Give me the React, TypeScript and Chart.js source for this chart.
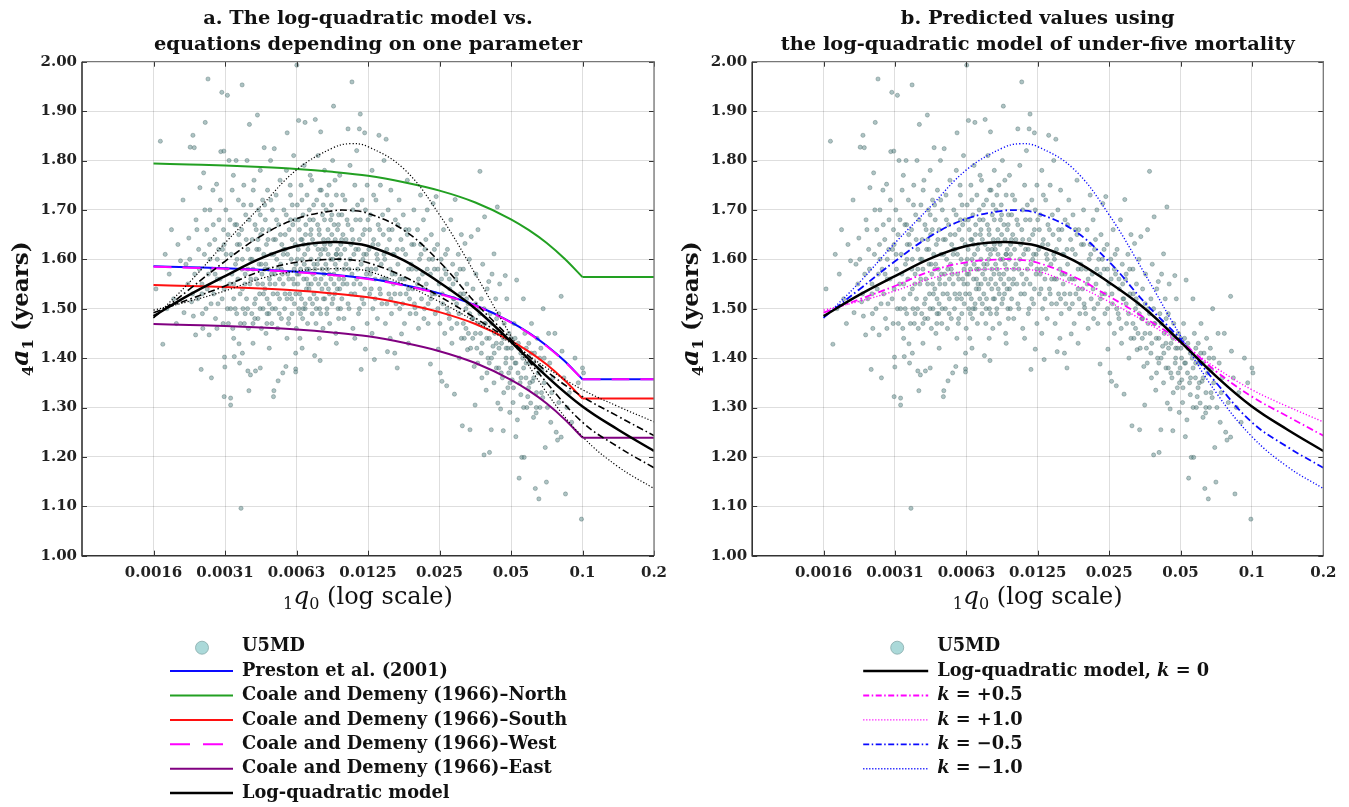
import React, { useEffect, useRef } from "react";
import { Chart, registerables } from "chart.js";

Chart.register(...registerables);

const SERIF = '"DejaVu Serif", "Liberation Serif", serif';

// ---------- axes ----------
const xTickValues = [0.0015625, 0.003125, 0.00625, 0.0125, 0.025, 0.05, 0.1, 0.2];
const xTickLabels = ["0.0016", "0.0031", "0.0063", "0.0125", "0.025", "0.05", "0.1", "0.2"];
const X_MIN = 0.00078125;
const X_MAX = 0.2;
const Y_MIN = 1.0;
const Y_MAX = 2.0;
const Y_STEP = 0.1;

// ---------- titles / legend labels ----------
const titleA = ["a. The log-quadratic model vs.", "equations depending on one parameter"];
const titleB = ["b. Predicted values using", "the log-quadratic model of under-five mortality"];
const legendA = [
  "U5MD",
  "Preston et al. (2001)",
  "Coale and Demeny (1966)\u2013North",
  "Coale and Demeny (1966)\u2013South",
  "Coale and Demeny (1966)\u2013West",
  "Coale and Demeny (1966)\u2013East",
  "Log-quadratic model",
];
const legendBValues = ["0", "+0.5", "+1.0", "\u22120.5", "\u22121.0"];

// ---------- log-quadratic model curves ----------
const curveQ = [0.0015625, 0.00221, 0.003125, 0.00442, 0.00625, 0.00884, 0.0105, 0.0125, 0.0177, 0.025, 0.0354, 0.05, 0.0707, 0.1, 0.1414, 0.2];
const logQuadK0 = [1.485, 1.528, 1.566, 1.602, 1.627, 1.635, 1.633, 1.627, 1.598, 1.553, 1.5, 1.433, 1.363, 1.302, 1.255, 1.212];
const kPlus05 = [1.492, 1.519, 1.546, 1.576, 1.594, 1.6, 1.599, 1.593, 1.565, 1.525, 1.481, 1.434, 1.373, 1.322, 1.282, 1.243];
const kPlus10 = [1.497, 1.515, 1.536, 1.561, 1.576, 1.581, 1.58, 1.576, 1.549, 1.514, 1.474, 1.43, 1.38, 1.336, 1.302, 1.271];
const kMinus05 = [1.482, 1.539, 1.596, 1.647, 1.682, 1.698, 1.699, 1.693, 1.659, 1.595, 1.512, 1.438, 1.35, 1.27, 1.22, 1.178];
const kMinus10 = [1.481, 1.553, 1.633, 1.707, 1.781, 1.825, 1.834, 1.828, 1.783, 1.69, 1.57, 1.445, 1.33, 1.241, 1.18, 1.136];

// ---------- one-parameter equations ----------
const cdQ = [0.0015625, 0.00221, 0.003125, 0.00442, 0.00625, 0.00884, 0.0125, 0.0177, 0.025, 0.0354, 0.05, 0.0595, 0.0707, 0.0841, 0.1];
const prestonA = [1.586, 1.584, 1.582, 1.579, 1.575, 1.569, 1.561, 1.548, 1.531, 1.507, 1.473, 1.451, 1.425, 1.394, 1.357];
const northA = [1.794, 1.792, 1.79, 1.787, 1.783, 1.777, 1.769, 1.756, 1.739, 1.715, 1.681, 1.659, 1.633, 1.601, 1.564];
const southA = [1.548, 1.546, 1.544, 1.541, 1.537, 1.531, 1.523, 1.51, 1.493, 1.469, 1.435, 1.413, 1.387, 1.355, 1.318];
const westA = [1.585, 1.583, 1.581, 1.578, 1.574, 1.568, 1.56, 1.547, 1.53, 1.506, 1.472, 1.45, 1.424, 1.393, 1.357];
const eastA = [1.469, 1.467, 1.465, 1.462, 1.458, 1.452, 1.444, 1.431, 1.414, 1.39, 1.356, 1.334, 1.308, 1.276, 1.239];
const plateauQ = [0.1, 0.2];
const prestonPlateau = 1.357;
const northPlateau = 1.564;
const southPlateau = 1.318;
const westPlateau = 1.357;
const eastPlateau = 1.239;

const u5mdPoints = [
  [0.0016, 1.54], [0.00167, 1.839], [0.00171, 1.428], [0.00175, 1.61], [0.00178, 1.5],
  [0.00182, 1.57], [0.00186, 1.66], [0.0019, 1.52], [0.00195, 1.47], [0.00198, 1.63], [0.00203, 1.597],
  [0.00208, 1.72], [0.0021, 1.492], [0.00214, 1.59], [0.00218, 1.55], [0.0022, 1.643], [0.00223, 1.827], [0.00226, 1.514], [0.00229, 1.851], [0.0023, 1.485], [0.00232, 1.826], [0.00233, 1.57], [0.00235, 1.447], [0.00236, 1.68],
  [0.0024, 1.52], [0.00242, 1.62], [0.00245, 1.745], [0.00248, 1.377], [0.0025, 1.55], [0.00252, 1.46], [0.00254, 1.775], [0.00256, 1.61], [0.00258, 1.877], [0.0026, 1.5], [0.00262, 1.66], [0.00265, 1.965], [0.00266, 1.57], [0.00268, 1.447], [0.0027, 1.7],
  [0.00274, 1.36], [0.00276, 1.58], [0.00278, 1.74], [0.0028, 1.53], [0.00283, 1.64], [0.00285, 1.48], [0.00288, 1.752], [0.0029, 1.6], [0.00292, 1.51], [0.00295, 1.68], [0.00298, 1.56], [0.003, 1.818], [0.00303, 1.938], [0.00305, 1.62], [0.00307, 1.47], [0.00309, 1.819], [0.0031, 1.322], [0.0031, 1.54], [0.00311, 1.402], [0.00312, 1.382],
  [0.00315, 1.7], [0.00317, 1.58], [0.0032, 1.932], [0.0032, 1.5], [0.00322, 1.65], [0.00325, 1.8], [0.00327, 1.55], [0.0033, 1.319], [0.0033, 1.305], [0.00332, 1.61], [0.00335, 1.74], [0.00337, 1.46], [0.0034, 1.52], [0.00342, 1.403], [0.00344, 1.67], [0.00346, 1.59], [0.00348, 1.8], [0.0035, 1.49], [0.00352, 1.63], [0.00354, 1.56], [0.00356, 1.72], [0.00358, 1.429],
  [0.0036, 1.39], [0.00362, 1.53], [0.00365, 1.096], [0.00367, 1.66], [0.00369, 1.953], [0.0037, 1.6], [0.00372, 1.5], [0.00375, 1.75], [0.00377, 1.47], [0.0038, 1.57], [0.00382, 1.69], [0.00385, 1.52], [0.00387, 1.8], [0.0039, 1.62], [0.0039, 1.374], [0.00392, 1.46], [0.00394, 1.334], [0.00396, 1.873], [0.00398, 1.55], [0.004, 1.366], [0.00402, 1.71], [0.00405, 1.49], [0.00407, 1.64], [0.0041, 1.58],
  [0.00414, 1.76], [0.00416, 1.51], [0.00418, 1.67], [0.0042, 1.374], [0.00422, 1.56], [0.00425, 1.62], [0.00428, 1.892], [0.0043, 1.48], [0.00432, 1.7], [0.00435, 1.59], [0.00437, 1.53], [0.0044, 1.78], [0.00442, 1.65], [0.00445, 1.46], [0.00447, 1.57], [0.0045, 1.72], [0.00452, 1.5], [0.00455, 1.61], [0.00457, 1.826], [0.0046, 1.54], [0.00462, 1.68], [0.00465, 1.45], [0.00467, 1.63], [0.0047, 1.52], [0.00472, 1.74],
  [0.00476, 1.58], [0.00478, 1.49], [0.0048, 1.66], [0.00483, 1.55], [0.00486, 1.8], [0.00489, 1.61], [0.00492, 1.47], [0.00495, 1.7], [0.00498, 1.53], [0.005, 1.322], [0.005, 1.64], [0.00502, 1.334], [0.00504, 1.824], [0.00506, 1.57], [0.0051, 1.5], [0.00513, 1.73], [0.00516, 1.6], [0.0052, 1.46], [0.00523, 1.354], [0.00526, 1.67], [0.0053, 1.52], [0.00533, 1.76], [0.00536, 1.59], [0.0054, 1.48], [0.00542, 1.63],
  [0.00547, 1.37], [0.0055, 1.55], [0.00553, 1.7], [0.00557, 1.5], [0.0056, 1.62], [0.00564, 1.383], [0.00567, 1.78], [0.00571, 1.856], [0.00574, 1.57], [0.00578, 1.47], [0.00582, 1.66], [0.00585, 1.53], [0.0059, 1.73], [0.00594, 1.6], [0.00598, 1.49], [0.006, 1.64], [0.00604, 1.56], [0.00608, 1.81], [0.00612, 1.51], [0.00616, 1.68], [0.0062, 1.378], [0.0062, 1.372], [0.00622, 1.59], [0.00624, 1.46],
  [0.00627, 1.993], [0.0063, 1.71], [0.00633, 1.55], [0.00636, 1.62], [0.00638, 1.881], [0.0064, 1.5], [0.00643, 1.66], [0.00646, 1.44], [0.0065, 1.58], [0.00653, 1.75], [0.00656, 1.52], [0.0066, 1.64], [0.00663, 1.48], [0.00666, 1.69], [0.0067, 1.56], [0.00673, 1.79], [0.00676, 1.61], [0.00679, 1.877], [0.0068, 1.51], [0.00684, 1.67], [0.00688, 1.54], [0.00692, 1.73], [0.00696, 1.47], [0.007, 1.63], [0.00704, 1.58], [0.00708, 1.7], [0.00712, 1.52], [0.00716, 1.65],
  [0.0072, 1.6], [0.00724, 1.76], [0.00728, 1.49], [0.00732, 1.57], [0.00736, 1.68], [0.0074, 1.53], [0.00745, 1.405], [0.0075, 1.883], [0.0075, 1.63], [0.00755, 1.47], [0.0076, 1.72], [0.00765, 1.59], [0.0077, 1.81], [0.00774, 1.55], [0.00778, 1.66], [0.00782, 1.5], [0.00786, 1.395], [0.0079, 1.858], [0.0079, 1.61], [0.00795, 1.74], [0.008, 1.54], [0.00804, 1.69], [0.00808, 1.46], [0.00812, 1.64], [0.00816, 1.57], [0.0082, 1.78], [0.00822, 1.52],
  [0.00828, 1.62], [0.00833, 1.7], [0.00838, 1.49], [0.00843, 1.58], [0.00848, 1.66], [0.00852, 1.54], [0.00857, 1.75], [0.00862, 1.47], [0.00867, 1.63], [0.00872, 1.56], [0.00877, 1.71], [0.00882, 1.51], [0.00887, 1.8], [0.0089, 1.6], [0.00895, 1.91], [0.009, 1.67], [0.00905, 1.53], [0.0091, 1.64], [0.00915, 1.45], [0.0092, 1.73], [0.00925, 1.58], [0.0093, 1.62], [0.00935, 1.5], [0.0094, 1.69], [0.00944, 1.56],
  [0.0095, 1.77], [0.0096, 1.61], [0.0097, 1.52], [0.0098, 1.65], [0.0099, 1.48], [0.01, 1.72], [0.0101, 1.59], [0.0102, 1.55], [0.0103, 1.864], [0.0103, 1.67], [0.0104, 1.5], [0.0105, 1.79], [0.0106, 1.63], [0.0107, 1.959], [0.0107, 1.57], [0.0108, 1.7], [0.0108, 1.46], [0.0109, 1.61],
  [0.011, 1.53], [0.0111, 1.68], [0.0112, 1.82], [0.0113, 1.58], [0.0114, 1.49], [0.0115, 1.864], [0.0115, 1.64], [0.0116, 1.894], [0.0116, 1.55], [0.0117, 1.377], [0.0118, 1.72], [0.0119, 1.6], [0.012, 1.51], [0.0121, 1.856], [0.0121, 1.66], [0.0122, 1.418], [0.0123, 1.57], [0.0124, 1.75], [0.0124, 1.47],
  [0.0126, 1.62], [0.0127, 1.53], [0.0128, 1.69], [0.0129, 1.58], [0.013, 1.78], [0.0131, 1.5], [0.0132, 1.64], [0.0133, 1.397], [0.0134, 1.56], [0.0135, 1.72], [0.0136, 1.61], [0.0137, 1.48], [0.0138, 1.67], [0.0139, 1.851], [0.014, 1.54], [0.0141, 1.75], [0.0142, 1.59], [0.0143, 1.51],
  [0.0145, 1.65], [0.0146, 1.8], [0.0147, 1.56], [0.0148, 1.47], [0.0149, 1.843], [0.015, 1.62], [0.0151, 1.413], [0.0152, 1.7], [0.0153, 1.53], [0.0155, 1.58], [0.0156, 1.74], [0.0157, 1.49], [0.0158, 1.66], [0.016, 1.55], [0.0161, 1.61], [0.0162, 1.41], [0.0163, 1.68], [0.0164, 1.51],
  [0.0166, 1.38], [0.0167, 1.59], [0.0169, 1.72], [0.017, 1.5], [0.0172, 1.64], [0.0173, 1.449], [0.0175, 1.56], [0.0176, 1.69], [0.0178, 1.47], [0.018, 1.61], [0.0181, 1.53], [0.0183, 1.76], [0.0185, 1.58], [0.0186, 1.66], [0.0188, 1.49],
  [0.0191, 1.63], [0.0193, 1.54], [0.0195, 1.7], [0.0197, 1.502], [0.02, 1.58], [0.0202, 1.66], [0.0204, 1.46], [0.0206, 1.6], [0.0208, 1.73], [0.021, 1.52], [0.0212, 1.57], [0.0214, 1.68], [0.0216, 1.5], [0.0217, 1.62],
  [0.022, 1.55], [0.0222, 1.7], [0.0224, 1.47], [0.0226, 1.6], [0.0229, 1.388], [0.0231, 1.65], [0.0233, 1.53], [0.0235, 1.713], [0.0238, 1.58], [0.024, 1.49], [0.0242, 1.727], [0.0245, 1.63], [0.0247, 1.418], [0.0249, 1.55],
  [0.0252, 1.37], [0.0254, 1.6], [0.0256, 1.353], [0.0258, 1.51], [0.026, 1.66], [0.0263, 1.45], [0.0266, 1.57], [0.0268, 1.344], [0.027, 1.62], [0.0273, 1.49], [0.0276, 1.54], [0.0279, 1.68], [0.0282, 1.43], [0.0284, 1.59], [0.0286, 1.52],
  [0.0289, 1.327], [0.0291, 1.721], [0.0293, 1.56], [0.0296, 1.47], [0.03, 1.61], [0.0303, 1.4], [0.0306, 1.53], [0.0309, 1.65], [0.0312, 1.263], [0.0315, 1.58], [0.0318, 1.44], [0.032, 1.632], [0.0323, 1.5], [0.0326, 1.55], [0.0328, 1.417],
  [0.0331, 1.45], [0.0334, 1.6], [0.0336, 1.255], [0.034, 1.646], [0.0343, 1.48], [0.0346, 1.54], [0.035, 1.383], [0.0353, 1.305], [0.0356, 1.57], [0.0359, 1.42], [0.0363, 1.66], [0.0366, 1.5], [0.037, 1.778], [0.0372, 1.45], [0.0375, 1.52], [0.0377, 1.36],
  [0.038, 1.59], [0.0385, 1.204], [0.0387, 1.686], [0.039, 1.47], [0.0393, 1.335], [0.0397, 1.54], [0.04, 1.4], [0.0403, 1.555], [0.0406, 1.209], [0.0409, 1.49], [0.0413, 1.255], [0.0416, 1.57], [0.042, 1.424], [0.0424, 1.611], [0.0427, 1.45], [0.0431, 1.52], [0.0434, 1.38],
  [0.0438, 1.706], [0.044, 1.309], [0.0444, 1.49], [0.0448, 1.55], [0.0452, 1.297], [0.0456, 1.43], [0.046, 1.36], [0.0464, 1.253], [0.0468, 1.47], [0.0473, 1.567], [0.0477, 1.4], [0.048, 1.52], [0.0485, 1.34], [0.049, 1.45], [0.0494, 1.29], [0.0498, 1.38],
  [0.0502, 1.42], [0.0506, 1.356], [0.051, 1.31], [0.0515, 1.47], [0.052, 1.39], [0.0524, 1.241], [0.0528, 1.558], [0.0532, 1.275], [0.0537, 1.43], [0.0541, 1.157], [0.0546, 1.35], [0.055, 1.326], [0.0555, 1.199], [0.056, 1.4], [0.0564, 1.52], [0.0568, 1.199], [0.0572, 1.45],
  [0.0578, 1.36], [0.0583, 1.3], [0.0588, 1.322], [0.0594, 1.43], [0.06, 1.39], [0.0605, 1.309], [0.061, 1.47], [0.0616, 1.353], [0.0622, 1.28], [0.0628, 1.41], [0.0633, 1.136], [0.0638, 1.289], [0.0644, 1.44], [0.065, 1.37], [0.0655, 1.115],
  [0.0662, 1.3], [0.0668, 1.42], [0.0675, 1.376], [0.0683, 1.5], [0.069, 1.35], [0.0697, 1.219], [0.0705, 1.149], [0.0712, 1.3], [0.072, 1.45], [0.0728, 1.39], [0.0735, 1.27], [0.0742, 1.33], [0.075, 1.36],
  [0.0765, 1.45], [0.0775, 1.25], [0.0785, 1.234], [0.0795, 1.31], [0.0813, 1.525], [0.0813, 1.24], [0.082, 1.414], [0.0835, 1.36], [0.0848, 1.125], [0.086, 1.3],
  [0.088, 1.33], [0.09, 1.27], [0.093, 1.4], [0.096, 1.35], [0.099, 1.074], [0.1, 1.38], [0.101, 1.37],
  [0.0034, 1.55], [0.0036, 1.63], [0.0038, 1.49], [0.004, 1.6], [0.0042, 1.52], [0.0044, 1.69], [0.0046, 1.58], [0.0048, 1.51], [0.0049, 1.57], [0.0051, 1.64], [0.0053, 1.56], [0.0055, 1.61], [0.0057, 1.52], [0.0059, 1.68], [0.0061, 1.55], [0.0063, 1.6], [0.0065, 1.49], [0.0067, 1.63], [0.0069, 1.58], [0.0071, 1.68], [0.0073, 1.51], [0.0075, 1.56], [0.0077, 1.62], [0.0079, 1.49], [0.0081, 1.71], [0.0083, 1.55], [0.0085, 1.61], [0.0087, 1.68], [0.0089, 1.52], [0.0091, 1.59], [0.0093, 1.66], [0.0095, 1.54], [0.0097, 1.69], [0.0099, 1.58],
  [0.0101, 1.64], [0.0103, 1.51], [0.0105, 1.6], [0.0107, 1.66], [0.0109, 1.55], [0.0111, 1.62], [0.0113, 1.71], [0.0115, 1.5], [0.0117, 1.59], [0.0119, 1.65], [0.0121, 1.54], [0.0123, 1.61], [0.0125, 1.68], [0.0128, 1.57], [0.0131, 1.63], [0.0134, 1.52], [0.0137, 1.6], [0.014, 1.66], [0.0143, 1.56], [0.0146, 1.61], [0.015, 1.51], [0.0154, 1.64], [0.0158, 1.57], [0.0162, 1.53], [0.0166, 1.62], [0.017, 1.56], [0.0175, 1.51], [0.018, 1.66], [0.0185, 1.54], [0.019, 1.59], [0.0196, 1.51], [0.0202, 1.55], [0.0208, 1.63], [0.0215, 1.48], [0.0222, 1.58], [0.023, 1.52], [0.0238, 1.62], [0.0246, 1.5],
  [0.0255, 1.56], [0.0265, 1.61], [0.0275, 1.48], [0.0285, 1.55], [0.0295, 1.51], [0.0305, 1.58], [0.0315, 1.47], [0.0325, 1.52], [0.0335, 1.49], [0.0345, 1.44], [0.0355, 1.51], [0.0365, 1.47], [0.0375, 1.41], [0.0385, 1.5], [0.0395, 1.44], [0.0405, 1.39], [0.0415, 1.47], [0.0425, 1.41], [0.0435, 1.48], [0.0445, 1.42], [0.0455, 1.37], [0.0465, 1.44], [0.0475, 1.39], [0.0485, 1.42], [0.0495, 1.35], [0.0505, 1.4], [0.052, 1.44], [0.0535, 1.37], [0.055, 1.41], [0.0565, 1.38], [0.058, 1.42], [0.06, 1.35], [0.062, 1.39], [0.064, 1.33], [0.066, 1.4], [0.068, 1.32],
  [0.0025, 1.53], [0.0027, 1.6], [0.0029, 1.56], [0.0031, 1.63], [0.0033, 1.5], [0.0035, 1.67], [0.0037, 1.54], [0.0039, 1.58], [0.0041, 1.47], [0.0043, 1.64], [0.0045, 1.55], [0.0047, 1.49], [0.0052, 1.53], [0.0054, 1.58], [0.0056, 1.65], [0.0058, 1.48], [0.006, 1.71], [0.0062, 1.53], [0.0064, 1.57], [0.0066, 1.6], [0.0068, 1.5], [0.007, 1.55], [0.0072, 1.66], [0.0074, 1.59], [0.0076, 1.52], [0.0078, 1.65], [0.008, 1.58], [0.0082, 1.63], [0.0084, 1.5], [0.0086, 1.57], [0.0088, 1.65], [0.009, 1.55], [0.0092, 1.61], [0.0094, 1.48], [0.0096, 1.63], [0.0098, 1.55],
  [0.00222, 1.6], [0.00228, 1.53], [0.00238, 1.66], [0.00244, 1.58], [0.00251, 1.49], [0.00257, 1.7], [0.00263, 1.54], [0.00269, 1.63], [0.00273, 1.51], [0.00279, 1.67], [0.00284, 1.57], [0.00289, 1.46], [0.00294, 1.62], [0.00299, 1.72], [0.00304, 1.52], [0.00308, 1.66],
  [0.00316, 1.61], [0.00323, 1.47], [0.00328, 1.68], [0.00334, 1.57], [0.00339, 1.77], [0.00345, 1.5], [0.00351, 1.6], [0.00357, 1.65], [0.00363, 1.47], [0.00368, 1.58], [0.00374, 1.71], [0.00379, 1.55], [0.00384, 1.64], [0.00389, 1.5], [0.00395, 1.68], [0.00401, 1.56], [0.00406, 1.6], [0.00411, 1.74], [0.00417, 1.48], [0.00423, 1.66], [0.00429, 1.55], [0.00434, 1.62], [0.00439, 1.5], [0.00444, 1.59],
  [0.00449, 1.66], [0.00454, 1.53], [0.00459, 1.71], [0.00464, 1.59], [0.00469, 1.47], [0.00474, 1.64], [0.00481, 1.56], [0.00487, 1.72], [0.00494, 1.5], [0.00501, 1.61], [0.00508, 1.55], [0.00515, 1.68], [0.00522, 1.58], [0.00529, 1.49], [0.00535, 1.65], [0.00545, 1.57], [0.00552, 1.62], [0.00559, 1.53], [0.00566, 1.69], [0.00573, 1.61], [0.0058, 1.56], [0.00588, 1.75], [0.00596, 1.52], [0.00603, 1.67], [0.00611, 1.58], [0.00618, 1.63],
  [0.00629, 1.57], [0.00637, 1.68], [0.00645, 1.53], [0.00652, 1.64], [0.00659, 1.72], [0.00667, 1.5], [0.00674, 1.59], [0.00682, 1.65], [0.0069, 1.56], [0.00698, 1.62], [0.00706, 1.54], [0.00714, 1.77], [0.00722, 1.55], [0.0073, 1.64], [0.00738, 1.71], [0.00747, 1.58], [0.00757, 1.5], [0.00767, 1.67], [0.00776, 1.6], [0.00784, 1.74], [0.00793, 1.56], [0.00802, 1.62], [0.00811, 1.52], [0.0082, 1.68], [0.0083, 1.59], [0.0084, 1.73], [0.0085, 1.64], [0.0086, 1.53], [0.0087, 1.6], [0.0088, 1.69],
  [0.00898, 1.57], [0.00908, 1.76], [0.00918, 1.61], [0.00928, 1.54], [0.00938, 1.67], [0.00948, 1.6], [0.00958, 1.5], [0.00968, 1.64], [0.00978, 1.73], [0.00988, 1.56], [0.00998, 1.62], [0.0102, 1.68], [0.0104, 1.58], [0.0106, 1.53], [0.0108, 1.64], [0.011, 1.75], [0.0112, 1.56], [0.0114, 1.62], [0.0116, 1.68], [0.0118, 1.52], [0.012, 1.61], [0.0122, 1.7], [0.0124, 1.58],
  [0.0127, 1.66], [0.0129, 1.54], [0.0132, 1.73], [0.0135, 1.58], [0.0138, 1.63], [0.0141, 1.53], [0.0144, 1.69], [0.0147, 1.6], [0.015, 1.56], [0.0153, 1.66], [0.0156, 1.52], [0.0159, 1.61], [0.0163, 1.57], [0.0167, 1.67], [0.0171, 1.53], [0.0175, 1.62],
  [0.0179, 1.56], [0.0183, 1.65], [0.0187, 1.52], [0.0191, 1.58], [0.0195, 1.63], [0.0199, 1.49], [0.0204, 1.56], [0.0209, 1.61], [0.0214, 1.54], [0.0219, 1.64], [0.0224, 1.51], [0.0229, 1.57], [0.0234, 1.6], [0.024, 1.53], [0.0246, 1.58],
  [0.0251, 1.47], [0.0257, 1.53], [0.0263, 1.58], [0.0269, 1.5], [0.0275, 1.56], [0.0281, 1.46], [0.0288, 1.52], [0.0295, 1.57], [0.0302, 1.49], [0.0309, 1.44], [0.0316, 1.53], [0.0323, 1.46], [0.033, 1.51], [0.0338, 1.42], [0.0346, 1.48],
  [0.0354, 1.45], [0.0362, 1.39], [0.037, 1.49], [0.0378, 1.43], [0.0387, 1.47], [0.0396, 1.37], [0.0405, 1.44], [0.0414, 1.4], [0.0424, 1.35], [0.0434, 1.43], [0.0444, 1.38], [0.0455, 1.45], [0.0466, 1.33], [0.0477, 1.42], [0.0489, 1.37], [0.05, 1.44], [0.0512, 1.34], [0.0525, 1.39], [0.0538, 1.42], [0.0551, 1.36], [0.0565, 1.3], [0.0579, 1.39], [0.0593, 1.34], [0.0608, 1.41], [0.0623, 1.36], [0.0639, 1.3], [0.0655, 1.38], [0.0672, 1.33], [0.069, 1.4],
  [0.0034, 1.44], [0.0041, 1.43], [0.0048, 1.42], [0.0057, 1.44], [0.0066, 1.42], [0.0078, 1.44], [0.0092, 1.43], [0.011, 1.44], [0.013, 1.45], [0.0155, 1.44], [0.0185, 1.43], [0.0037, 1.41], [0.0044, 1.38], [0.0062, 1.41],
];

// ---------- styles ----------
const BLUE = "#0a0aff";
const GREEN = "#22a022";
const RED = "#ff1010";
const MAGENTA = "#ff00ff";
const PURPLE = "#800080";
const BLACK = "#000000";
const DASH_WEST = [18, 11];
const DASH_DOT = [7, 3, 1.6, 3];
const DOTTED = [1.2, 2];

const fTitle = `bold 19.4px ${SERIF}`;
const fTick = { family: SERIF, size: 15, weight: "bold" as const };
const fLeg = `bold 17.8px ${SERIF}`;
const fLegIt = `italic bold 17.8px ${SERIF}`;
const fAxis = `24px ${SERIF}`;
const fAxisIt = `italic 25px ${SERIF}`;
const fAxisB = `bold 23px ${SERIF}`;
const fAxisItB = `italic bold 25px ${SERIF}`;
const fSub = `16px ${SERIF}`;
const fSubB = `bold 15px ${SERIF}`;

type Seg = { t: string; f: string; dy?: number };
type Row = { kind: "marker" | "line"; color?: string; width?: number; dash?: number[]; segs: Seg[] };
type PanelCfg = {
  id: string;
  title: string[];
  rows: Row[];
  lineX: number;
  lineLen: number;
  textX: number;
  markerX: number;
};

function drawSegs(ctx: CanvasRenderingContext2D, segs: Seg[], x: number, y: number, center: boolean) {
  const widths = segs.map((s) => {
    ctx.font = s.f;
    return ctx.measureText(s.t).width;
  });
  const total = widths.reduce((a, b) => a + b, 0);
  let cx = center ? x - total / 2 : x;
  ctx.textAlign = "left";
  segs.forEach((s, i) => {
    ctx.font = s.f;
    ctx.fillText(s.t, cx, y + (s.dy || 0));
    cx += widths[i];
  });
}

function makeDecor(cfg: PanelCfg) {
  return {
    id: "decor" + cfg.id,
    afterDraw(chart: any) {
      const { ctx, chartArea: ca, scales } = chart;
      const xs = scales.x;
      const ys = scales.y;
      ctx.save();
      ctx.setLineDash([]);
      // inward tick marks
      ctx.strokeStyle = "#333";
      ctx.lineWidth = 1;
      ctx.beginPath();
      xTickValues.forEach((v) => {
        const px = Math.round(xs.getPixelForValue(v)) + 0.5;
        ctx.moveTo(px, ca.bottom);
        ctx.lineTo(px, ca.bottom - 5);
        ctx.moveTo(px, ca.top);
        ctx.lineTo(px, ca.top + 5);
      });
      ys.ticks.forEach((t: any) => {
        const py = Math.round(ys.getPixelForValue(t.value)) + 0.5;
        ctx.moveTo(ca.left, py);
        ctx.lineTo(ca.left + 5, py);
        ctx.moveTo(ca.right, py);
        ctx.lineTo(ca.right - 5, py);
      });
      ctx.stroke();
      // frame
      ctx.lineWidth = 1.3;
      ctx.strokeStyle = "#777";
      ctx.beginPath();
      ctx.moveTo(ca.left, ca.top);
      ctx.lineTo(ca.right, ca.top);
      ctx.lineTo(ca.right, ca.bottom);
      ctx.stroke();
      ctx.lineWidth = 1.6;
      ctx.strokeStyle = "#333";
      ctx.beginPath();
      ctx.moveTo(ca.left, ca.top);
      ctx.lineTo(ca.left, ca.bottom);
      ctx.lineTo(ca.right, ca.bottom);
      ctx.stroke();

      // titles
      ctx.fillStyle = "#111";
      ctx.textBaseline = "alphabetic";
      const cx = (ca.left + ca.right) / 2;
      drawSegs(ctx, [{ t: cfg.title[0], f: fTitle }], cx, 24, true);
      drawSegs(ctx, [{ t: cfg.title[1], f: fTitle }], cx, 49.5, true);

      // x axis title
      drawSegs(
        ctx,
        [
          { t: "1", f: fSub, dy: 5 },
          { t: "q", f: fAxisIt },
          { t: "0", f: fSub, dy: 5 },
          { t: " (log scale)", f: fAxis },
        ],
        cx,
        ca.bottom + 48.5,
        true
      );

      // y axis title
      ctx.save();
      ctx.translate(ca.left - 54, (ca.top + ca.bottom) / 2);
      ctx.rotate(-Math.PI / 2);
      drawSegs(
        ctx,
        [
          { t: "4", f: fSubB, dy: 5 },
          { t: "a", f: fAxisItB },
          { t: "1", f: fSubB, dy: 5 },
          { t: " (years)", f: fAxisB },
        ],
        0,
        0,
        true
      );
      ctx.restore();

      // legend
      ctx.textBaseline = "middle";
      cfg.rows.forEach((row, i) => {
        const y = ca.bottom + 91 + 24.4 * i;
        if (row.kind === "marker") {
          ctx.setLineDash([]);
          ctx.beginPath();
          ctx.arc(ca.left + cfg.markerX, y + 1, 6.5, 0, Math.PI * 2);
          ctx.fillStyle = "#abd9d9";
          ctx.fill();
          ctx.lineWidth = 0.8;
          ctx.strokeStyle = "#86aaaa";
          ctx.stroke();
        } else {
          ctx.setLineDash(row.dash || []);
          ctx.lineWidth = row.width || 2;
          ctx.strokeStyle = row.color || "#000";
          ctx.beginPath();
          ctx.moveTo(ca.left + cfg.lineX, y);
          ctx.lineTo(ca.left + cfg.lineX + cfg.lineLen, y);
          ctx.stroke();
        }
        ctx.setLineDash([]);
        ctx.fillStyle = "#111";
        drawSegs(ctx, row.segs, ca.left + cfg.textX, y, false);
      });
      ctx.restore();
    },
  };
}

function lineDs(q: number[], a: number[], color: string, width: number, dash: number[], order: number, mono: boolean) {
  return {
    type: "line" as const,
    data: q.map((x, i) => ({ x, y: a[i] })),
    borderColor: color,
    backgroundColor: color,
    borderWidth: width,
    borderDash: dash,
    pointRadius: 0,
    fill: false,
    tension: mono ? 0 : 0.4,
    cubicInterpolationMode: mono ? ("monotone" as const) : ("default" as const),
    order,
  };
}

function flatDs(value: number, color: string, width: number, dash: number[], order: number) {
  return lineDs(plateauQ, plateauQ.map(() => value), color, width, dash, order, false);
}

function scatterDs() {
  return {
    type: "line" as const,
    data: u5mdPoints.map((p) => ({ x: p[0], y: p[1] })),
    showLine: false,
    pointRadius: 2.1,
    pointBackgroundColor: "rgba(92,135,135,0.5)",
    pointBorderColor: "rgba(47,79,79,0.5)",
    pointBorderWidth: 0.6,
    order: 50,
  };
}

function datasetsA() {
  return [
    scatterDs(),
    lineDs(cdQ, prestonA, BLUE, 2, [], 30, true),
    flatDs(prestonPlateau, BLUE, 2, [], 30),
    lineDs(cdQ, northA, GREEN, 2, [], 29, true),
    flatDs(northPlateau, GREEN, 2, [], 29),
    lineDs(cdQ, southA, RED, 2, [], 28, true),
    flatDs(southPlateau, RED, 2, [], 28),
    lineDs(cdQ, eastA, PURPLE, 2, [], 27, true),
    flatDs(eastPlateau, PURPLE, 2, [], 27),
    lineDs(cdQ, westA, MAGENTA, 2, DASH_WEST, 26, true),
    flatDs(westPlateau, MAGENTA, 2, DASH_WEST, 26),
    lineDs(curveQ, kMinus10, BLACK, 1.2, DOTTED, 10, false),
    lineDs(curveQ, kPlus10, BLACK, 1.2, DOTTED, 10, false),
    lineDs(curveQ, kMinus05, BLACK, 1.6, DASH_DOT, 9, false),
    lineDs(curveQ, kPlus05, BLACK, 1.6, DASH_DOT, 9, false),
    lineDs(curveQ, logQuadK0, BLACK, 2.5, [], 1, false),
  ];
}

function datasetsB() {
  return [
    scatterDs(),
    lineDs(curveQ, kPlus10, MAGENTA, 1.4, DOTTED, 10, false),
    lineDs(curveQ, kMinus10, BLUE, 1.4, DOTTED, 10, false),
    lineDs(curveQ, kPlus05, MAGENTA, 1.8, DASH_DOT, 9, false),
    lineDs(curveQ, kMinus05, BLUE, 1.8, DASH_DOT, 9, false),
    lineDs(curveQ, logQuadK0, BLACK, 2.5, [], 1, false),
  ];
}

const cfgA: PanelCfg = {
  id: "A",
  title: titleA,
  lineX: 88,
  lineLen: 63,
  textX: 160,
  markerX: 120,
  rows: [
    { kind: "marker", segs: [{ t: legendA[0], f: fLeg }] },
    { kind: "line", color: BLUE, width: 2, segs: [{ t: legendA[1], f: fLeg }] },
    { kind: "line", color: GREEN, width: 2, segs: [{ t: legendA[2], f: fLeg }] },
    { kind: "line", color: RED, width: 2, segs: [{ t: legendA[3], f: fLeg }] },
    { kind: "line", color: MAGENTA, width: 2, dash: [20, 13], segs: [{ t: legendA[4], f: fLeg }] },
    { kind: "line", color: PURPLE, width: 2, segs: [{ t: legendA[5], f: fLeg }] },
    { kind: "line", color: BLACK, width: 2.5, segs: [{ t: legendA[6], f: fLeg }] },
  ],
};

const cfgB: PanelCfg = {
  id: "B",
  title: titleB,
  lineX: 111,
  lineLen: 65,
  textX: 185,
  markerX: 145,
  rows: [
    { kind: "marker", segs: [{ t: "U5MD", f: fLeg }] },
    {
      kind: "line",
      color: BLACK,
      width: 2.5,
      segs: [
        { t: "Log-quadratic model, ", f: fLeg },
        { t: "k", f: fLegIt },
        { t: " = " + legendBValues[0], f: fLeg },
      ],
    },
    { kind: "line", color: MAGENTA, width: 1.8, dash: [6, 2.5, 1.5, 2.5], segs: [{ t: "k", f: fLegIt }, { t: " = " + legendBValues[1], f: fLeg }] },
    { kind: "line", color: MAGENTA, width: 1.4, dash: [1.2, 1.8], segs: [{ t: "k", f: fLegIt }, { t: " = " + legendBValues[2], f: fLeg }] },
    { kind: "line", color: BLUE, width: 1.8, dash: [6, 2.5, 1.5, 2.5], segs: [{ t: "k", f: fLegIt }, { t: " = " + legendBValues[3], f: fLeg }] },
    { kind: "line", color: BLUE, width: 1.4, dash: [1.2, 1.8], segs: [{ t: "k", f: fLegIt }, { t: " = " + legendBValues[4], f: fLeg }] },
  ],
};

function Panel(props: { cfg: PanelCfg; left: number; width: number; padLeft: number; padRight: number; datasets: () => any[] }) {
  const ref = useRef<HTMLCanvasElement | null>(null);
  useEffect(() => {
    const canvas = ref.current;
    if (!canvas) return;
    const chart = new Chart(canvas, {
      type: "line",
      data: { datasets: props.datasets() as any },
      options: {
        animation: false,
        responsive: false,
        events: [],
        layout: { padding: { left: props.padLeft, right: props.padRight, top: 61.7, bottom: 221.3 } },
        plugins: { legend: { display: false }, tooltip: { enabled: false }, title: { display: false } },
        scales: {
          x: {
            type: "logarithmic",
            min: X_MIN,
            max: X_MAX,
            afterBuildTicks: (s: any) => {
              s.ticks = xTickValues.map((v) => ({ value: v }));
            },
            afterFit: (s: any) => {
              s.height = 30;
            },
            ticks: {
              autoSkip: false,
              maxRotation: 0,
              minRotation: 0,
              padding: 8,
              color: "#222",
              font: fTick,
              callback: (_v: any, i: number) => xTickLabels[i],
            },
            grid: { color: "rgba(0,0,0,0.13)", lineWidth: 1, drawTicks: false },
            border: { display: false },
          },
          y: {
            type: "linear",
            min: Y_MIN,
            max: Y_MAX,
            afterFit: (s: any) => {
              s.width = 60;
            },
            ticks: {
              stepSize: Y_STEP,
              padding: 5,
              color: "#222",
              font: fTick,
              callback: (v: any) => Number(v).toFixed(2),
            },
            grid: { color: "rgba(0,0,0,0.13)", lineWidth: 1, drawTicks: false },
            border: { display: false },
          },
        },
      } as any,
      plugins: [makeDecor(props.cfg)],
    });
    return () => chart.destroy();
  }, []);
  return (
    <canvas
      ref={ref}
      width={props.width}
      height={807}
      style={{ position: "absolute", left: props.left, top: 0, width: props.width, height: 807 }}
    />
  );
}

export default function App() {
  return (
    <div style={{ position: "absolute", left: 0, top: 0, width: 1349, height: 807, background: "#fff", overflow: "hidden" }}>
      <Panel cfg={cfgA} left={0} width={680} padLeft={22} padRight={26} datasets={datasetsA} />
      <Panel cfg={cfgB} left={680} width={669} padLeft={12.2} padRight={25.7} datasets={datasetsB} />
    </div>
  );
}
